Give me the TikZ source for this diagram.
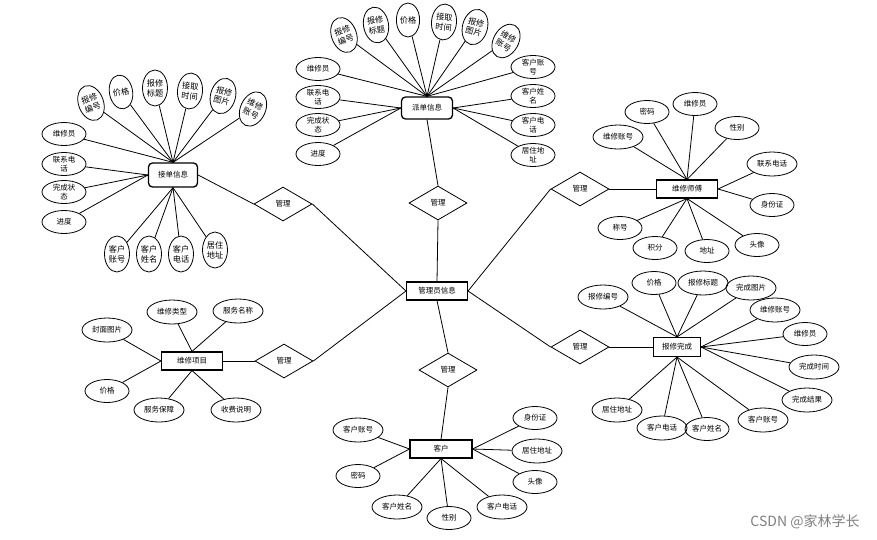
\documentclass[tikz,border=0pt]{standalone}
\usepackage{fontspec}
\setmainfont{Noto Sans CJK SC}
\usetikzlibrary{shapes.geometric}
\tikzset{
  attr/.style={draw,ellipse,line width=0.8pt,inner sep=0pt,minimum width=44pt,minimum height=23pt,
    font=\fontsize{7.5}{9}\selectfont,align=center},
  wattr/.style={attr,minimum width=50pt,minimum height=24pt},
  tattr/.style={attr,minimum width=25pt,minimum height=36pt,font=\fontsize{8.2}{10}\selectfont},
  ent/.style={draw,rectangle,line width=1.1pt,inner sep=0pt,minimum width=61pt,minimum height=18pt,
    font=\fontsize{7.5}{9}\selectfont},
  rent/.style={ent,rounded corners=4pt,line width=1.3pt},
  rel/.style={draw,diamond,aspect=1.7,line width=0.8pt,inner sep=0pt,minimum width=58pt,minimum height=34pt,
    font=\fontsize{7.5}{9}\selectfont},
  link/.style={line width=0.8pt}
}
\def\dl{\draw[link]}

\begin{document}
\begin{tikzpicture}[x=1pt,y=-1pt]
\useasboundingbox[fill=white] (0,0) rectangle (877,539);

% 管理员信息
\node[ent] (adm) at (437,291) {管理员信息};

% 派单信息
\node[rent,minimum width=51pt,minimum height=22pt] (pd) at (427,108) {派单信息};
\node[tattr,rotate=20]  (pd1) at (344,35) {报修\\编号};
\node[tattr,rotate=10]  (pd2) at (376,25) {报修\\标题};
\node[tattr,minimum width=22pt,minimum height=34pt] (pd3) at (408,20) {价格};
\node[tattr,rotate=-5]  (pd4) at (444,22) {接取\\时间};
\node[tattr,rotate=-15] (pd5) at (475,27) {报修\\图片};
\node[tattr,rotate=-30] (pd6) at (506,41) {维修\\账号};
\node[attr] (pd7)  at (318,69)  {维修员};
\node[attr] (pd8)  at (318,97)  {联系电\\话};
\node[attr] (pd9)  at (318,125) {完成状\\态};
\node[attr] (pd10) at (318,154) {进度};
\node[attr] (pd11) at (533,67)  {客户账\\号};
\node[attr] (pd12) at (533,96)  {客户姓\\名};
\node[attr] (pd13) at (533,125) {客户电\\话};
\node[attr] (pd14) at (533,155) {居住地\\址};
\foreach \a in {pd1,pd2,pd3,pd4,pd5,pd6,pd7,pd11} \dl (pd.north) -- (\a);
\foreach \a in {pd8,pd9,pd10} \dl (pd.west) -- (\a);
\foreach \a in {pd12,pd13,pd14} \dl (pd.east) -- (\a);
\node[rel] (rt) at (438,203) {管理};
\dl (pd.south) -- (rt.north);
\dl (rt.south) -- (adm.north);

% 接单信息
\node[rent,minimum width=49pt,minimum height=24pt] (jd) at (173,175) {接单信息};
\node[tattr,rotate=20]  (jd1) at (91,103) {报修\\编号};
\node[tattr,rotate=10,minimum width=22pt,minimum height=34pt] (jd2) at (121,92) {价格};
\node[tattr]            (jd3) at (155,88) {报修\\标题};
\node[tattr,rotate=-5]  (jd4) at (190,91) {接取\\时间};
\node[tattr,rotate=-15] (jd5) at (223,96) {报修\\图片};
\node[tattr,rotate=-25] (jd6) at (253,109) {维修\\账号};
\node[attr] (jd7)  at (64,134) {维修员};
\node[attr] (jd8)  at (64,164) {联系电\\话};
\node[attr] (jd9)  at (64,192) {完成状\\态};
\node[attr] (jd10) at (64,222) {进度};
\node[tattr] (jd11) at (117,254) {客户\\账号};
\node[tattr] (jd12) at (149,254) {客户\\姓名};
\node[tattr] (jd13) at (181,254) {客户\\电话};
\node[tattr] (jd14) at (215,250) {居住\\地址};
\foreach \a in {jd1,jd2,jd3,jd4,jd5,jd6,jd7} \dl (jd.north) -- (\a);
\foreach \a in {jd8,jd9,jd10} \dl (jd.west) -- (\a);
\foreach \a in {jd11,jd12,jd13,jd14} \dl (jd.south) -- (\a);
\node[rel] (jr) at (283,204) {管理};
\dl (jd.east) -- (jr.west);
\dl (jr.east) -- (adm.west);

% 维修师傅
\node[ent] (ws) at (687,189) {维修师傅};
\node[wattr] (ws1) at (618,137) {维修账号};
\node[attr]  (ws2) at (647,112) {密码};
\node[attr]  (ws3) at (695,104) {维修员};
\node[attr]  (ws4) at (737,128) {性别};
\node[wattr] (ws5) at (772,164) {联系电话};
\node[attr]  (ws6) at (772,205) {身份证};
\node[attr]  (ws7) at (620,228) {称号};
\node[attr]  (ws8) at (655,248) {积分};
\node[attr]  (ws9) at (707,251) {地址};
\node[attr]  (ws10) at (757,245) {头像};
\foreach \a in {ws1,ws2,ws3,ws4} \dl (ws.north) -- (\a);
\foreach \a in {ws5,ws6} \dl (ws.east) -- (\a);
\foreach \a in {ws7,ws8,ws9,ws10} \dl (ws.south) -- (\a);
\node[rel] (sr) at (580,189) {管理};
\dl (sr.east) -- (ws.west);
\dl (sr.west) -- (adm.east);

% 报修完成
\node[ent,minimum width=47pt,minimum height=19pt] (bw) at (677,347) {报修完成};
\node[wattr] (bw1) at (603,297) {报修编号};
\node[attr]  (bw2) at (654,283) {价格};
\node[wattr] (bw3) at (703,283) {报修标题};
\node[wattr] (bw4) at (751,288) {完成图片};
\node[wattr] (bw5) at (775,310) {维修账号};
\node[attr]  (bw6) at (805,334) {维修员};
\node[wattr] (bw7) at (814,367) {完成时间};
\node[wattr] (bw8) at (807,400) {完成结果};
\node[wattr] (bw9) at (763,420) {客户账号};
\node[attr]  (bw10) at (707,429) {客户姓名};
\node[wattr] (bw11) at (662,428) {客户电话};
\node[wattr] (bw12) at (617,410) {居住地址};
\foreach \a in {bw1,bw2,bw3,bw4} \dl (bw.north) -- (\a);
\foreach \a in {bw5,bw6,bw7,bw8} \dl (bw.east) -- (\a);
\foreach \a in {bw9,bw10,bw11,bw12} \dl (bw.south) -- (\a);
\node[rel] (br) at (580,347) {管理};
\dl (br.east) -- (bw.west);
\dl (br.west) -- (adm.east);

% 维修项目
\node[ent] (wx) at (192,361) {维修项目};
\node[wattr] (wx1) at (107,330) {封面图片};
\node[wattr] (wx2) at (172,312) {维修类型};
\node[wattr] (wx3) at (238,311) {服务名称};
\node[attr]  (wx4) at (107,391) {价格};
\node[wattr] (wx5) at (159,410) {服务保障};
\node[wattr] (wx6) at (236,410) {收费说明};
\foreach \a in {wx1,wx4} \dl (wx.west) -- (\a);
\foreach \a in {wx2,wx3} \dl (wx.north) -- (\a);
\foreach \a in {wx5,wx6} \dl (wx.south) -- (\a);
\node[rel] (wr) at (284,361) {管理};
\dl (wx.east) -- (wr.west);
\dl (wr.east) -- (adm.west);

% 客户
\node[ent,minimum width=62pt] (kh) at (441,449) {客户};
\node[wattr] (kh1) at (358,430) {客户账号};
\node[attr]  (kh2) at (358,476) {密码};
\node[wattr] (kh3) at (397,507) {客户姓名};
\node[attr]  (kh4) at (449,518) {性别};
\node[wattr] (kh5) at (502,507) {客户电话};
\node[attr]  (kh6) at (535,418) {身份证};
\node[wattr] (kh7) at (537,451) {居住地址};
\node[attr]  (kh8) at (535,482) {头像};
\foreach \a in {kh1,kh2} \dl (kh.west) -- (\a);
\foreach \a in {kh3,kh4,kh5} \dl (kh.south) -- (\a);
\foreach \a in {kh6,kh7,kh8} \dl (kh.east) -- (\a);
\node[rel] (kr) at (448,370) {管理};
\dl (kr.north) -- (adm.south);
\dl (kr.south) -- (kh.north);

\node[text=gray,font=\fontsize{14}{16}\selectfont] (wm) at (805,522) {CSDN @家林学长};
\end{tikzpicture}
\end{document}
